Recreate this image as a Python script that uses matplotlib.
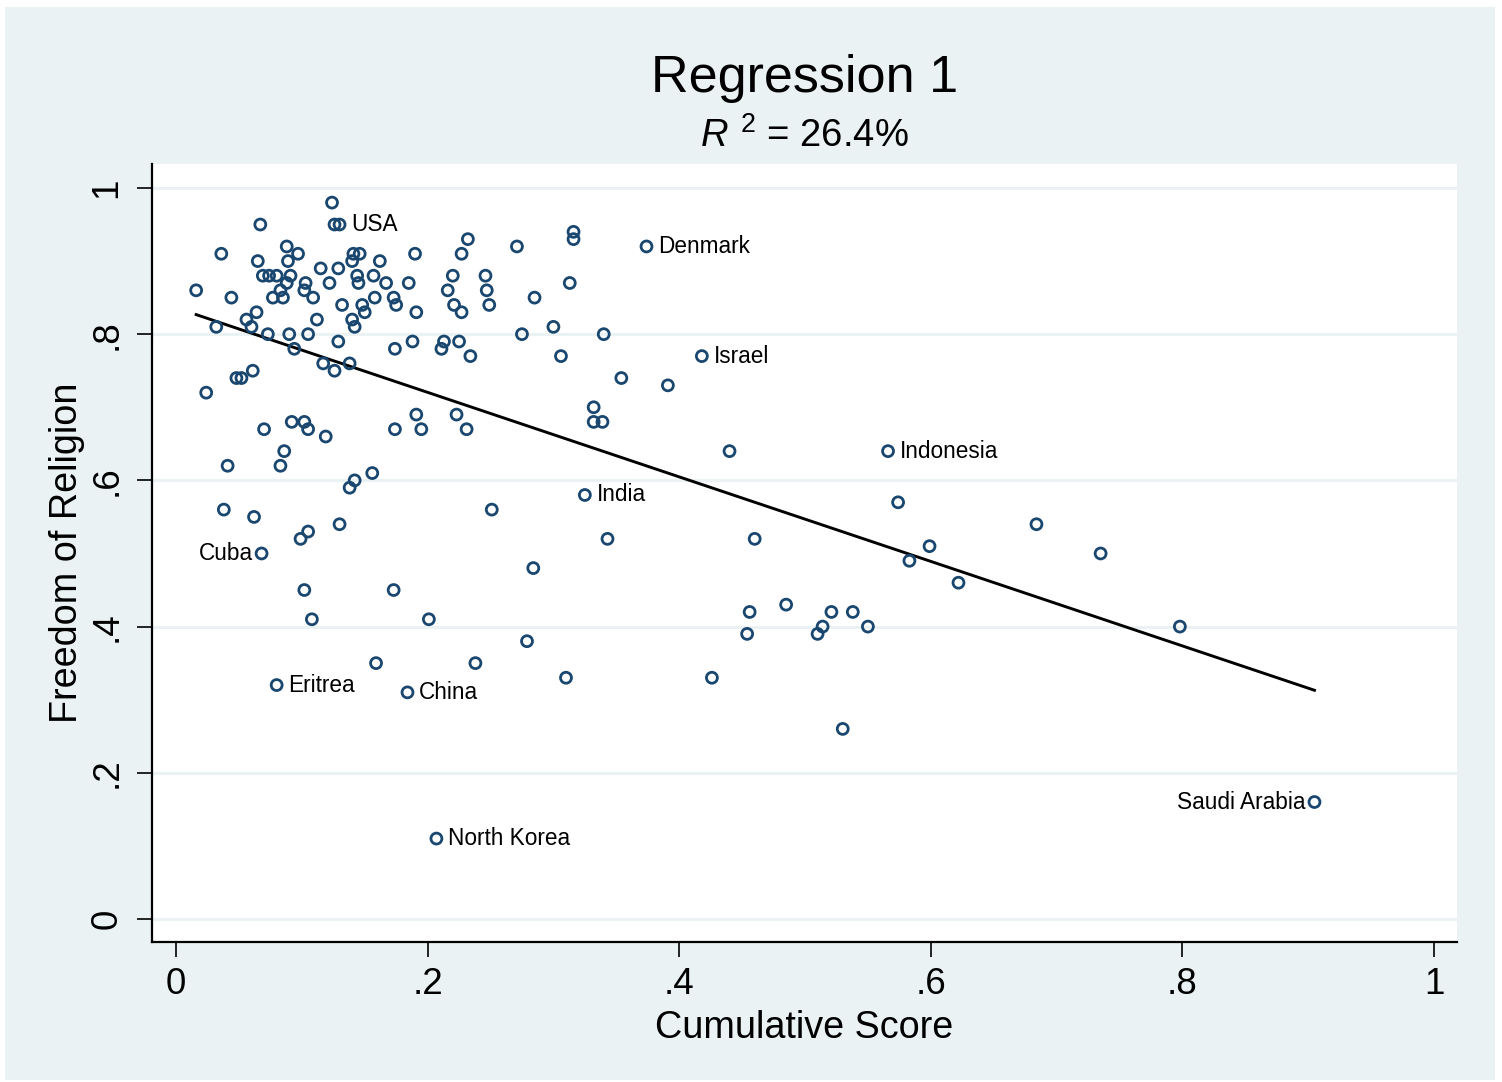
import numpy as np
import matplotlib.pyplot as plt
from matplotlib.patches import Rectangle

plt.rcParams['font.family'] = ['Liberation Sans', 'DejaVu Sans']
plt.rcParams['mathtext.fontset'] = 'custom'
plt.rcParams['mathtext.rm'] = 'Liberation Sans'
plt.rcParams['mathtext.it'] = 'Liberation Sans:italic'

# cumulative score (x) and freedom of religion (y) per country
score = [0.016, 0.032, 0.024, 0.036, 0.044, 0.041, 0.038, 0.048, 0.052, 0.056,
         0.060, 0.061, 0.062, 0.064, 0.065, 0.067, 0.069, 0.068, 0.070, 0.073,
         0.074, 0.080, 0.077, 0.083, 0.085, 0.080, 0.083, 0.086, 0.088, 0.088,
         0.089, 0.090, 0.091, 0.092, 0.094, 0.097, 0.099, 0.102, 0.102, 0.102,
         0.103, 0.105, 0.105, 0.105, 0.108, 0.109, 0.112, 0.115, 0.117, 0.119,
         0.122, 0.124, 0.126, 0.130, 0.126, 0.129, 0.129, 0.130, 0.132, 0.138,
         0.138, 0.140, 0.141, 0.140, 0.142, 0.142, 0.146, 0.145, 0.144, 0.148,
         0.150, 0.156, 0.157, 0.158, 0.159, 0.162, 0.167, 0.173, 0.173, 0.174,
         0.174, 0.175, 0.184, 0.185, 0.188, 0.190, 0.191, 0.191, 0.195, 0.201,
         0.207, 0.211, 0.213, 0.216, 0.220, 0.221, 0.223, 0.225, 0.227, 0.227,
         0.231, 0.232, 0.234, 0.238, 0.246, 0.247, 0.249, 0.251, 0.271, 0.275,
         0.279, 0.284, 0.285, 0.300, 0.306, 0.310, 0.313, 0.316, 0.316, 0.325,
         0.332, 0.332, 0.339, 0.340, 0.343, 0.354, 0.374, 0.391, 0.418, 0.426,
         0.440, 0.454, 0.456, 0.460, 0.485, 0.510, 0.514, 0.521, 0.530, 0.538,
         0.550, 0.566, 0.574, 0.583, 0.599, 0.622, 0.684, 0.735, 0.798, 0.905]
freedom = [0.86, 0.81, 0.72, 0.91, 0.85, 0.62, 0.56, 0.74, 0.74, 0.82,
           0.81, 0.75, 0.55, 0.83, 0.90, 0.95, 0.88, 0.50, 0.67, 0.80,
           0.88, 0.88, 0.85, 0.86, 0.85, 0.32, 0.62, 0.64, 0.92, 0.87,
           0.90, 0.80, 0.88, 0.68, 0.78, 0.91, 0.52, 0.68, 0.45, 0.86,
           0.87, 0.53, 0.80, 0.67, 0.41, 0.85, 0.82, 0.89, 0.76, 0.66,
           0.87, 0.98, 0.95, 0.95, 0.75, 0.79, 0.89, 0.54, 0.84, 0.76,
           0.59, 0.82, 0.91, 0.90, 0.81, 0.60, 0.91, 0.87, 0.88, 0.84,
           0.83, 0.61, 0.88, 0.85, 0.35, 0.90, 0.87, 0.85, 0.45, 0.67,
           0.78, 0.84, 0.31, 0.87, 0.79, 0.91, 0.69, 0.83, 0.67, 0.41,
           0.11, 0.78, 0.79, 0.86, 0.88, 0.84, 0.69, 0.79, 0.83, 0.91,
           0.67, 0.93, 0.77, 0.35, 0.88, 0.86, 0.84, 0.56, 0.92, 0.80,
           0.38, 0.48, 0.85, 0.81, 0.77, 0.33, 0.87, 0.94, 0.93, 0.58,
           0.70, 0.68, 0.68, 0.80, 0.52, 0.74, 0.92, 0.73, 0.77, 0.33,
           0.64, 0.39, 0.42, 0.52, 0.43, 0.39, 0.40, 0.42, 0.26, 0.42,
           0.40, 0.64, 0.57, 0.49, 0.51, 0.46, 0.54, 0.50, 0.40, 0.16]

# labelled countries: name, index into the arrays, side of the marker
label_names = ['USA', 'Cuba', 'Eritrea', 'China', 'North Korea', 'India',
               'Denmark', 'Israel', 'Indonesia', 'Saudi Arabia']
label_index = [53, 17, 25, 82, 90, 119, 126, 128, 141, 149]
label_side = ['r', 'l', 'r', 'r', 'r', 'r', 'r', 'r', 'r', 'l']

x = np.array(score)
y = np.array(freedom)

navy = '#1a476f'
bg = '#eaf2f3'

fig = plt.figure(figsize=(15.02, 10.82), dpi=100)
fig.patch.set_facecolor('white')
fig.add_artist(Rectangle((5 / 1502, 2 / 1082), 1490 / 1502, 1073 / 1082,
                         transform=fig.transFigure, facecolor=bg,
                         edgecolor='none', zorder=0))

ax = fig.add_axes([152 / 1502, 140 / 1082, 1305 / 1502, 778 / 1082])
ax.set_facecolor('white')
ax.set_xlim(-0.0191, 1.0183)
ax.set_ylim(-0.0315, 1.0328)

yt = [0, 0.2, 0.4, 0.6, 0.8, 1]
for v in yt:
    ax.axhline(v, color=bg, lw=2.2, zorder=1)

ax.scatter(x, y, s=62, facecolors='none', edgecolors=navy, linewidths=2.0,
           zorder=3)

# least squares fit line over the observed range
b, a = np.polyfit(x, y, 1)
xs = np.array([x.min(), x.max()])
ax.plot(xs, a + b * xs, color='black', lw=2.1, zorder=2)

for name, i, side in zip(label_names, label_index, label_side):
    if side == 'r':
        ax.annotate(name, (x[i], y[i]), xytext=(8.5, 0),
                    textcoords='offset points', ha='left', va='center',
                    fontsize=16.3, color='black', zorder=4)
    else:
        ax.annotate(name, (x[i], y[i]), xytext=(-6.5, 0),
                    textcoords='offset points', ha='right', va='center',
                    fontsize=16.3, color='black', zorder=4)

ax.set_xticks([0, 0.2, 0.4, 0.6, 0.8, 1])
ax.set_xticklabels(['0', '.2', '.4', '.6', '.8', '1'])
ax.set_yticks(yt)
ax.set_yticklabels(['0', '.2', '.4', '.6', '.8', '1'], rotation=90,
                   va='center')
ax.tick_params(axis='both', length=11, width=1.2, labelsize=26.5,
               colors='black', direction='out')
ax.tick_params(axis='x', pad=7)
ax.tick_params(axis='y', pad=9)

for side in ['top', 'right']:
    ax.spines[side].set_visible(False)
for side in ['left', 'bottom']:
    ax.spines[side].set_linewidth(1.6)
    ax.spines[side].set_color('black')

ax.set_xlabel('Cumulative Score', fontsize=27.2, labelpad=6)
ax.set_ylabel('Freedom of Religion', fontsize=27.2, labelpad=3)

fig.text(804.5 / 1502, 1 - 92 / 1082, 'Regression 1', fontsize=37.5,
         ha='center', va='baseline')
fig.text(804.5 / 1502, 1 - 147 / 1082, r'$R^{\;\,2}$ = 26.4%',
         fontsize=27.5, ha='center', va='baseline')

fig.savefig('out.png', dpi=100, facecolor=fig.get_facecolor())
